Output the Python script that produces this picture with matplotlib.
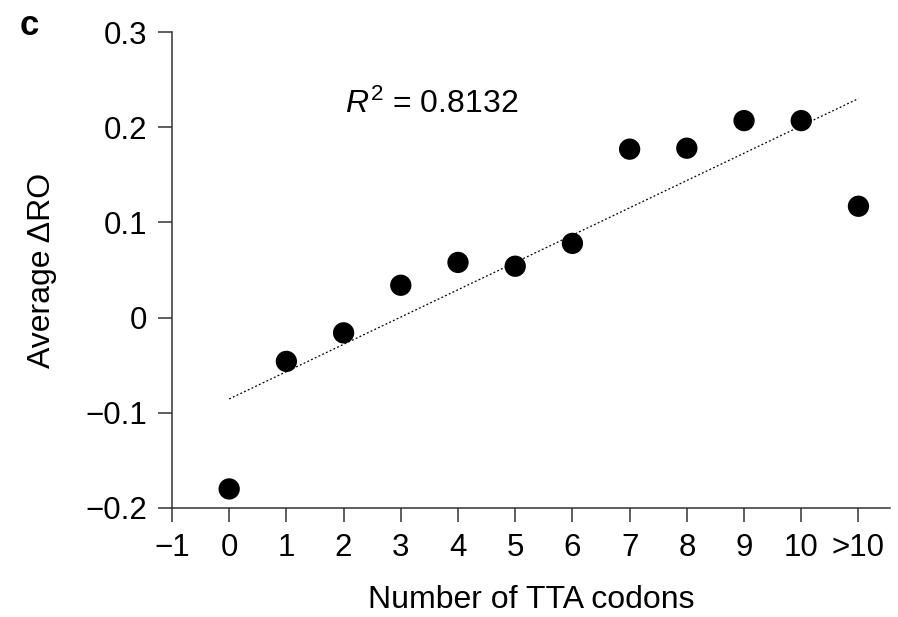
import numpy as np
import matplotlib
matplotlib.use("Agg")
import matplotlib.pyplot as plt

plt.rcParams.update({
    "font.family": ["Liberation Sans", "DejaVu Sans"],
    "font.size": 23,
    "mathtext.fontset": "custom",
    "mathtext.it": "Liberation Sans:italic",
    "mathtext.rm": "Liberation Sans",
})

# 数据
tta_pos = [0, 1, 2, 3, 4, 5, 6, 7, 8, 9, 10, 11]
avg_dro = [-0.180, -0.046, -0.016, 0.034, 0.058, 0.054, 0.078, 0.177, 0.178, 0.207, 0.207, 0.117]
xtick_vals = [-1, 0, 1, 2, 3, 4, 5, 6, 7, 8, 9, 10, 11]
xtick_labels = ["\u22121", "0", "1", "2", "3", "4", "5", "6", "7", "8", "9", "10", ">10"]
ytick_vals = [-0.2, -0.1, 0, 0.1, 0.2, 0.3]
ytick_labels = ["\u22120.2", "\u22120.1", "0", "0.1", "0.2", "0.3"]

fig = plt.figure(figsize=(8.98, 6.17), dpi=100)
ax = fig.add_axes([0.1915, 0.1767, 0.7995, 0.7713])

# 线性拟合
slope, intercept = np.polyfit(tta_pos, avg_dro, 1)
xs = np.array([tta_pos[0], tta_pos[-1]])
ax.plot(xs, slope * xs + intercept, color="black", lw=0.9,
        linestyle=(0, (1.5, 1.8)), zorder=2)

ax.scatter(tta_pos, avg_dro, s=235, color="black", edgecolors="none", zorder=3,
           clip_on=False)

ax.set_xlim(-1, 11.55)
ax.set_ylim(-0.2, 0.3)
ax.set_xticks(xtick_vals)
ax.set_xticklabels(xtick_labels)
ax.set_yticks(ytick_vals)
ax.set_yticklabels(ytick_labels)

for s in ["top", "right"]:
    ax.spines[s].set_visible(False)
for s in ["left", "bottom"]:
    ax.spines[s].set_linewidth(1.1)
    ax.spines[s].set_color("#333333")
ax.tick_params(direction="out", length=10, width=1.1, color="#333333",
               labelsize=22.5, pad=8)

ax.set_xlabel("Number of TTA codons", fontsize=23, labelpad=16)
ax.set_ylabel("Average \u0394RO", fontsize=23, labelpad=20)

ax.text(2.02, 0.224, "$R^2$ = 0.8132", fontsize=23, ha="left", va="center")
fig.text(0.022, 0.958, "c", fontsize=25, fontweight="bold", ha="left", va="center")

fig.savefig("out.png", dpi=100)
